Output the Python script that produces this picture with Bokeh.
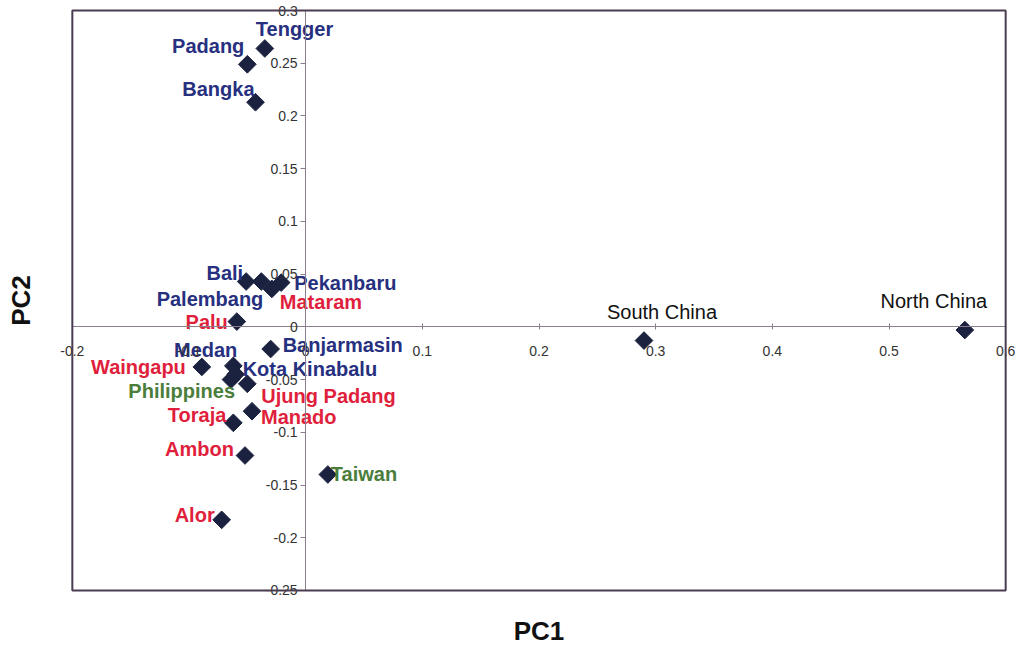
from bokeh.plotting import figure
from bokeh.models import (ColumnDataSource, FixedTicker, CustomJSTickFormatter, Title,
                          Range1d, BoxAnnotation)
from bokeh.core.properties import value
from bokeh.embed import file_html
from bokeh.resources import INLINE

# ---- data ----
populations = ["Tengger", "Padang", "Bangka", "Bali", "Palembang", "Pekanbaru", "Mataram",
               "Palu", "Banjarmasin", "Medan", "Waingapu", "Kota Kinabalu", "Philippines",
               "Ujung Padang", "Manado", "Toraja", "Ambon", "Taiwan", "Alor",
               "South China", "North China"]
pc1 = [-0.035, -0.050, -0.043, -0.051, -0.038, -0.021, -0.029,
       -0.059, -0.030, -0.062, -0.089, -0.060, -0.064,
       -0.050, -0.046, -0.062, -0.052, 0.019, -0.072,
       0.290, 0.565]
pc2 = [0.264, 0.249, 0.213, 0.043, 0.043, 0.042, 0.036,
       0.005, -0.021, -0.037, -0.038, -0.045, -0.050,
       -0.054, -0.080, -0.091, -0.122, -0.140, -0.183,
       -0.013, -0.003]
groups = ["blue", "blue", "blue", "blue", "blue", "blue", "red",
          "red", "blue", "blue", "red", "blue", "green",
          "red", "red", "red", "red", "green", "red",
          "china", "china"]
x_ticks = [-0.2, -0.1, 0.0, 0.1, 0.2, 0.3, 0.4, 0.5, 0.6]
y_ticks = [-0.25, -0.2, -0.15, -0.1, -0.05, 0.0, 0.05, 0.1, 0.15, 0.2, 0.25, 0.3]

# ---- styling (label placement in screen pixels) ----
label_dx = [-9, -3, -1, -3, 2, 13, 8, -9, 12, 4, -16, 7, 4, 14, 9, -7, -11, 3, -7, 18, -31]
label_dy = [-19, -18, -13, -9, 17, 0, 13, 0, -4, -16, 0, -5, 11, 12, 6, -8, -7, 0, -5, -29, -29]
label_align = ["left", "right", "right", "right", "right", "left", "left",
               "right", "left", "right", "right", "left", "right",
               "left", "left", "right", "right", "left", "right",
               "center", "center"]
palette = {"blue": "#27307f", "red": "#df1f3c", "green": "#4b7d3b", "china": "#111111"}
FONT = "Liberation Sans"
TICK_COLOR = "#333333"
TICK_SIZE = "14px"
PAD_X = 0.011    # room outside the drawn frame for the end tick labels
PAD_Y = 0.0095

colors = [palette[g] for g in groups]
styles = ["normal" if g == "china" else "bold" for g in groups]

src = ColumnDataSource(dict(x=pc1, y=pc2, name=populations, color=colors, style=styles,
                            dx=label_dx, dy=label_dy, align=label_align))

p = figure(width=1020, height=647, output_backend="svg", toolbar_location=None,
           x_range=Range1d(x_ticks[0] - PAD_X, x_ticks[-1] + PAD_X),
           y_range=Range1d(y_ticks[0] - PAD_Y, y_ticks[-1] + PAD_Y),
           min_border_left=59, min_border_right=2, min_border_top=0, min_border_bottom=47)
p.background_fill_color = "white"
p.border_fill_color = "white"
p.outline_line_color = None
p.grid.visible = False

# the plot frame, drawn at the axis extents
p.add_layout(BoxAnnotation(left=x_ticks[0], right=x_ticks[-1], bottom=y_ticks[0], top=y_ticks[-1],
                           fill_color=None, fill_alpha=0, line_color="#4a3c50", line_alpha=1,
                           line_width=2))

fmt = CustomJSTickFormatter(code="""
let s = tick.toFixed(2);
s = s.replace(/0+$/, '').replace(/\\.$/, '');
if (s === '-0') s = '0';
return s;
""")

for ax in p.xaxis:
    ax.fixed_location = 0
    ax.bounds = (x_ticks[0], x_ticks[-1])
    ax.ticker = FixedTicker(ticks=x_ticks)
    ax.formatter = fmt
    ax.axis_line_color = "#8a7d8c"
    ax.major_tick_line_color = "#8a7d8c"
    ax.minor_tick_line_color = None
    ax.major_tick_in = 3
    ax.major_tick_out = 3
    ax.major_label_standoff = 16
    ax.major_label_text_font = FONT
    ax.major_label_text_font_size = TICK_SIZE
    ax.major_label_text_color = TICK_COLOR

for ax in p.yaxis:
    ax.fixed_location = 0
    ax.bounds = (y_ticks[0], y_ticks[-1])
    ax.ticker = FixedTicker(ticks=y_ticks)
    ax.formatter = fmt
    ax.axis_line_color = "#8a7d8c"
    ax.major_tick_line_color = "#8a7d8c"
    ax.minor_tick_line_color = None
    ax.major_tick_in = 0
    ax.major_tick_out = 5
    ax.major_label_standoff = 3
    ax.major_label_text_font = FONT
    ax.major_label_text_font_size = TICK_SIZE
    ax.major_label_text_color = TICK_COLOR

# spacers, then the axis titles
p.add_layout(Title(text=" ", text_font=FONT, text_font_size="8px", standoff=0), "below")
p.add_layout(Title(text="PC1", align="center", text_font=FONT, standoff=4,
                   text_font_size="26px", text_font_style="bold", text_color="#111111"), "below")
p.add_layout(Title(text=" ", text_font=FONT, text_font_size="18px", standoff=0), "left")
p.add_layout(Title(text="PC2", align="center", text_font=FONT, standoff=4,
                   text_font_size="26px", text_font_style="bold", text_color="#111111"), "left")

p.scatter("x", "y", source=src, marker="square", angle=0.785398, size=12.5,
          fill_color="#1b2240", line_color="#1b2240")

p.text("x", "y", text="name", source=src, x_offset="dx", y_offset="dy",
       text_align="align", text_baseline="middle", text_color="color",
       text_font=value(FONT), text_font_size="20px", text_font_style="style")

open("out.html", "w").write(file_html(p, INLINE))
